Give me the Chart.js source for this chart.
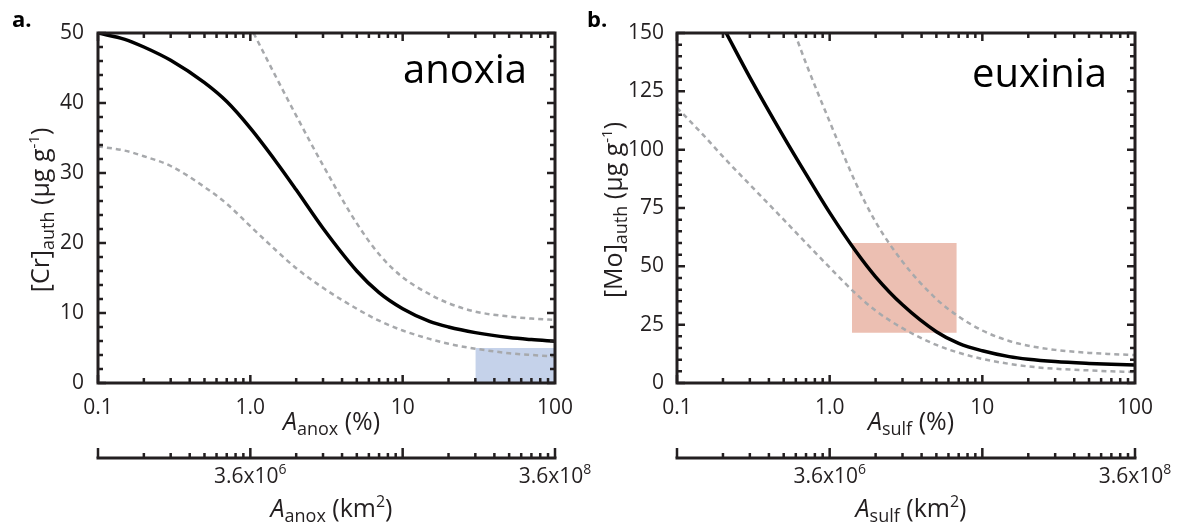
<!DOCTYPE html>
<html>
<head>
<meta charset="utf-8">
<script src="https://cdn.jsdelivr.net/npm/chart.js@4.4.1/dist/chart.umd.min.js"></script>
<style>
  html, body { margin: 0; padding: 0; background: #fff; }
  #wrap { position: relative; width: 1190px; height: 526px; overflow: hidden; }
  canvas { position: absolute; top: 0; }
  #chartA { left: 0; }
  #chartB { left: 585px; }
</style>
</head>
<body>
<div id="wrap">
  <canvas id="chartA" width="615" height="526"></canvas>
  <canvas id="chartB" width="605" height="526"></canvas>
</div>
<script>
const FONT = '"Open Sans", "Noto Sans", sans-serif';
const INK = '#231f20';

// x axis: % of seafloor, log scale
const xMin = 0.1;
const xMax = 100;
const xTickLabels = ['0.1', '1.0', '10', '100'];

// second axis: same area in km2
const kmPerPercent = 3.6e6;
const kmLabelValues = [3.6e6, 3.6e8];
const kmLabelPowers = ['6', '8'];

// panel a, [Cr]auth vs anoxic area
const crX = [0.1, 0.15, 0.2, 0.3, 0.5, 0.7, 1, 1.5, 2, 3, 5, 7, 10, 15, 20, 30, 50, 70, 100];
const crMid = [50, 49.1, 48.0, 46.1, 42.9, 40.2, 36.4, 31.4, 27.6, 22.1, 16.0, 12.9, 10.6, 8.8, 8.0, 7.2, 6.5, 6.2, 5.95];
const crLow = [33.8, 33.2, 32.4, 31.0, 28.0, 25.6, 22.4, 18.8, 16.4, 13.6, 10.6, 8.9, 7.5, 6.3, 5.6, 4.9, 4.25, 4.0, 3.8];
const crUpX = [1.05, 1.5, 2, 3, 5, 7, 10, 15, 20, 30, 50, 70, 100];
const crUp = [50, 43.4, 38.2, 31.1, 22.8, 18.4, 15.1, 12.7, 11.4, 10.2, 9.5, 9.2, 9.0];
const crBoxX = [30, 100];
const crBoxY = [0, 5];

// panel b, [Mo]auth vs sulfidic area
const moX = [0.1, 0.15, 0.2, 0.3, 0.5, 0.7, 1, 1.5, 2, 3, 5, 7, 10, 15, 20, 30, 50, 70, 100];
const moLow = [118, 106, 97, 85, 70, 60, 49.5, 38, 31, 23.5, 16.3, 13, 10.3, 8.2, 7.1, 6.1, 5.4, 5.0, 4.7];
const moMidX = [0.21, 0.3, 0.5, 0.7, 1, 1.5, 2, 3, 5, 7, 10, 15, 20, 30, 50, 70, 100];
const moMid = [150, 131, 105.5, 89.5, 73, 56, 45.5, 33.5, 22, 17, 13.8, 11.3, 10.2, 9.2, 8.4, 8.0, 7.7];
const moUpX = [0.59, 0.7, 1, 1.5, 2, 3, 5, 7, 10, 15, 20, 30, 50, 70, 100];
const moUp = [150, 137, 112, 85, 69, 52, 36, 28.5, 22.5, 18, 16, 14.2, 12.9, 12.4, 12.0];
const moBoxX = [1.4, 6.8];
const moBoxY = [21.5, 60];

function pts(xs, ys) {
  return xs.map((x, i) => ({ x: x, y: ys[i] }));
}

function partFont(p) {
  return (p.italic ? 'italic ' : '') + (p.bold ? 'bold ' : '') + p.size + 'px ' + FONT;
}

// draws text made of pieces (subscripts, superscripts)
function drawRich(ctx, parts, x, y, align) {
  let w = 0;
  parts.forEach(p => { ctx.font = partFont(p); w += ctx.measureText(p.text).width; });
  let cx = align === 'center' ? x - w / 2 : (align === 'right' ? x - w : x);
  ctx.textAlign = 'left';
  ctx.textBaseline = 'alphabetic';
  parts.forEach(p => {
    ctx.font = partFont(p);
    ctx.fillText(p.text, cx, y + (p.dy || 0));
    cx += ctx.measureText(p.text).width;
  });
}

function axesPlugin(o) {
  return {
    id: 'axesDeco',
    afterDatasetsDraw(chart) {
      const { ctx, chartArea: a, scales: { x, y } } = chart;
      ctx.save();
      ctx.strokeStyle = INK;
      ctx.fillStyle = INK;
      ctx.lineWidth = 2.5;

      // inward ticks on all four sides
      ctx.beginPath();
      for (let e = -1; e <= 1; e++) {
        for (let k = 1; k <= 9; k++) {
          const px = x.getPixelForValue(k * Math.pow(10, e));
          const len = k === 1 ? 8 : 5;
          ctx.moveTo(px, a.bottom); ctx.lineTo(px, a.bottom - len);
          ctx.moveTo(px, a.top); ctx.lineTo(px, a.top + len);
        }
      }
      for (let v = 0; v <= o.yMax; v += o.yMinor) {
        const py = y.getPixelForValue(v);
        const len = v % o.yMajor === 0 ? 8 : 5;
        ctx.moveTo(a.left, py); ctx.lineTo(a.left + len, py);
        ctx.moveTo(a.right, py); ctx.lineTo(a.right - len, py);
      }
      ctx.stroke();
      ctx.lineWidth = 3;
      ctx.strokeRect(a.left, a.top, a.right - a.left, a.bottom - a.top);

      // km2 axis below
      const ly = 458;
      const x0 = x.getPixelForValue(xMin);
      const x1 = x.getPixelForValue(xMax);
      ctx.beginPath();
      ctx.moveTo(x0 - 1.5, ly); ctx.lineTo(x1 + 1.5, ly);
      ctx.stroke();
      ctx.lineWidth = 2.5;
      ctx.beginPath();
      for (let e = 5; e <= 8; e++) {
        for (let k = 1; k <= 9; k++) {
          const km = k * 3.6 * Math.pow(10, e);
          if (km > 3.6e8 * 1.0001) break;
          const px = x.getPixelForValue(km / kmPerPercent);
          ctx.moveTo(px, ly); ctx.lineTo(px, ly - (k === 1 ? 10 : 5));
        }
      }
      ctx.stroke();
      kmLabelValues.forEach((km, i) => {
        const px = x.getPixelForValue(km / kmPerPercent);
        drawRich(ctx, [{ text: '3.6x10', size: 21 }, { text: kmLabelPowers[i], size: 14, dy: -9 }], px, 483, 'center');
      });

      // axis titles
      const cx = (a.left + a.right) / 2 + 5;
      drawRich(ctx, [{ text: 'A', italic: true, size: 25 }, { text: o.sub, size: 18, dy: 5 }, { text: ' (%)', size: 25 }], cx, 430, 'center');
      drawRich(ctx, [{ text: 'A', italic: true, size: 25 }, { text: o.sub, size: 18, dy: 5 }, { text: ' (km', size: 25 },
        { text: '2', size: 16, dy: -10 }, { text: ')', size: 25 }], cx, 517, 'center');

      ctx.save();
      ctx.translate(a.left - o.yTitleGap + 7, (a.top + a.bottom) / 2 + 2);
      ctx.rotate(-Math.PI / 2);
      drawRich(ctx, [{ text: o.elem, size: 25 }, { text: 'auth', size: 18, dy: 5 }, { text: ' (\u03bcg g', size: 25 },
        { text: '-1', size: 15, dy: -10 }, { text: ')', size: 25 }], 0, 0, 'center');
      ctx.restore();

      // corner words and panel letter
      ctx.fillStyle = '#000';
      drawRich(ctx, [{ text: o.word, size: 40 }], a.right - 28, o.wordY, 'right');
      drawRich(ctx, [{ text: o.letter, size: 22, bold: true }], o.letterX, 27, 'left');
      ctx.restore();
    }
  };
}

function makeChart(id, o) {
  const solid = { borderColor: '#000', borderWidth: 3.5, pointRadius: 0, fill: false, cubicInterpolationMode: 'monotone' };
  const dashed = { borderColor: '#a7a9ac', borderWidth: 2.5, borderDash: [5, 4], pointRadius: 0, fill: false, cubicInterpolationMode: 'monotone' };
  return new Chart(document.getElementById(id).getContext('2d'), {
    type: 'line',
    data: {
      datasets: [
        Object.assign({ data: o.mid }, solid),
        Object.assign({ data: o.up }, dashed),
        Object.assign({ data: o.low }, dashed),
        { data: o.box, borderWidth: 0, borderColor: 'transparent', pointRadius: 0, backgroundColor: o.boxColor, fill: { value: o.boxBase } }
      ]
    },
    options: {
      responsive: false,
      animation: false,
      events: [],
      layout: { padding: o.padding },
      plugins: { legend: { display: false }, tooltip: { enabled: false } },
      scales: {
        x: {
          type: 'logarithmic', min: xMin, max: xMax,
          grid: { display: false }, border: { display: false },
          ticks: {
            autoSkip: false, maxRotation: 0, padding: 4, color: INK,
            font: { family: FONT, size: 21 },
            callback: v => {
              const l = Math.log10(v);
              return Math.abs(l - Math.round(l)) < 1e-6 ? xTickLabels[Math.round(l) + 1] : '';
            }
          },
          afterFit: s => { s.height = 143; }
        },
        y: {
          min: 0, max: o.yMax,
          grid: { display: false }, border: { display: false },
          ticks: { stepSize: o.yMajor, padding: o.yPad, color: INK, font: { family: FONT, size: 21 } },
          afterFit: s => { s.width = 50; }
        }
      }
    },
    plugins: [axesPlugin(o)]
  });
}

makeChart('chartA', {
  mid: pts(crX, crMid), up: pts(crUpX, crUp), low: pts(crX, crLow),
  box: pts(crBoxX, [crBoxY[1], crBoxY[1]]), boxBase: crBoxY[0], boxColor: '#c5d2ea',
  yMax: 50, yMinor: 2, yMajor: 10, yPad: 6, yTitleGap: 56,
  padding: { left: 48, top: 33, right: 60, bottom: 0 },
  sub: 'anox', elem: '[Cr]', word: 'anoxia', wordY: 83, letter: 'a.', letterX: 12
});

makeChart('chartB', {
  mid: pts(moMidX, moMid), up: pts(moUpX, moUp), low: pts(moX, moLow),
  box: pts(moBoxX, [moBoxY[1], moBoxY[1]]), boxBase: moBoxY[0], boxColor: '#ecbfb2',
  yMax: 150, yMinor: 5, yMajor: 25, yPad: 5, yTitleGap: 62,
  padding: { left: 42, top: 33, right: 55, bottom: 0 },
  sub: 'sulf', elem: '[Mo]', word: 'euxinia', wordY: 87, letter: 'b.', letterX: 2
});
</script>
</body>
</html>
